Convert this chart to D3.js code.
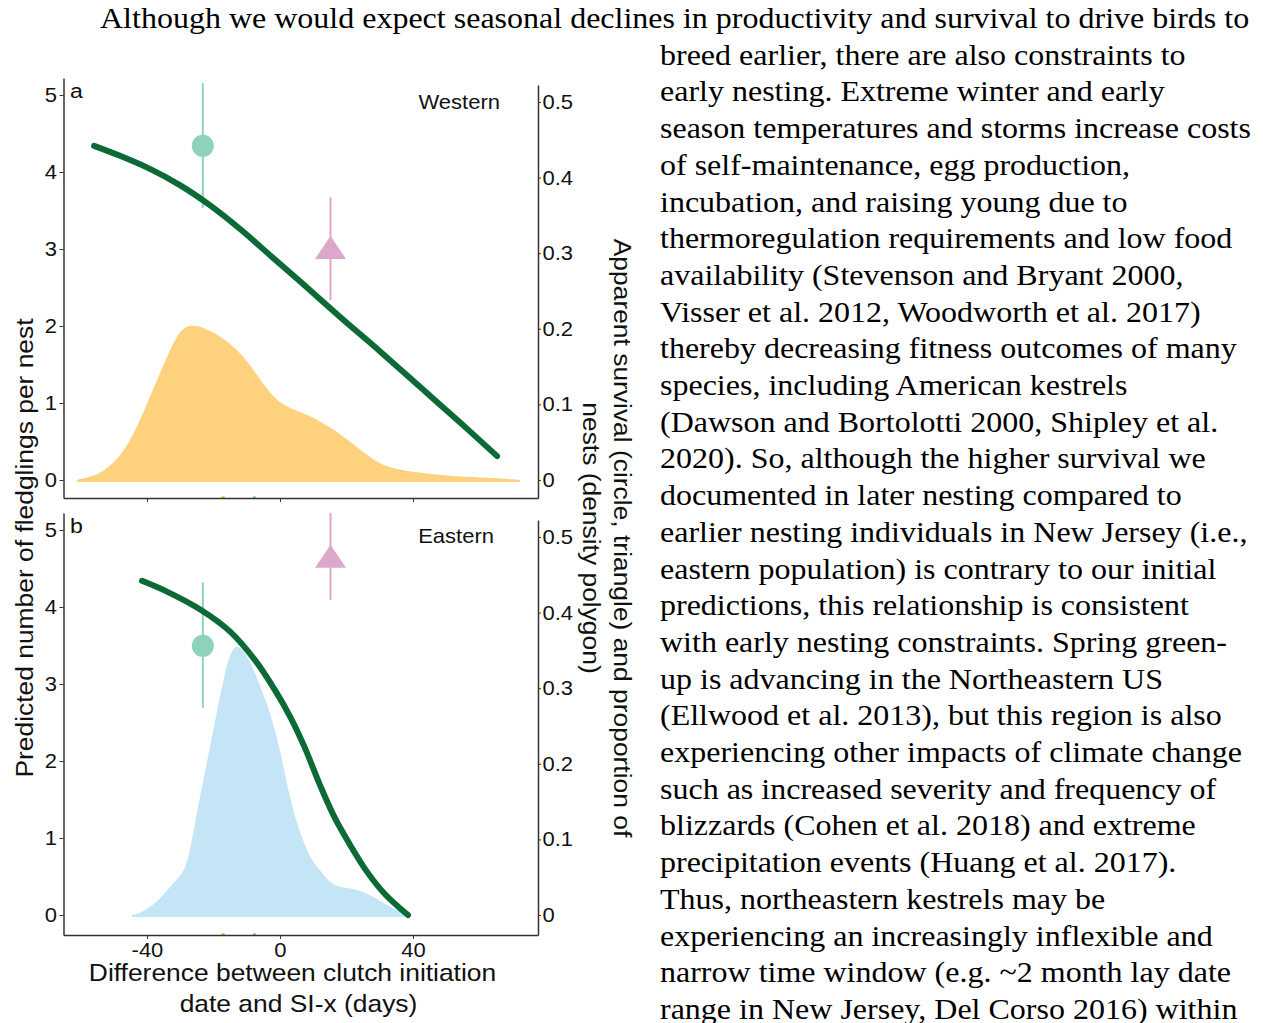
<!DOCTYPE html>
<html>
<head>
<meta charset="utf-8">
<script src="https://cdn.jsdelivr.net/npm/d3@7"></script>
<style>
  body { margin: 0; background: #fff; }
  svg { display: block; }
  .axis path, .axis line { stroke: #333; }
  .axis text { font-family: "Liberation Sans", Arial, sans-serif; font-size: 20px; fill: #111; }
  .lab { font-family: "Liberation Sans", Arial, sans-serif; fill: #111; }
  .para { font-family: "Liberation Serif", "Times New Roman", serif; font-size: 29px; fill: #000; }
</style>
</head>
<body>
<svg width="1263" height="1023"></svg>
<script>
// tick values
var xTicks = [-40, 0, 40];
var leftTicks = [0, 1, 2, 3, 4, 5];
var rightTicks = [0, 0.1, 0.2, 0.3, 0.4, 0.5];

// predicted fledglings (green curve), western
var westCurveX = [-55.9, -48.1, -39.1, -30.1, -21.1, -12.0, -3.0, 6.0, 18.0, 30.1, 42.1, 54.1, 65.3];
var westCurveY = [4.34, 4.21, 4.04, 3.83, 3.57, 3.26, 2.92, 2.58, 2.12, 1.67, 1.21, 0.75, 0.31];
// density of nests, western
var westDensX = [-61.1, -54.1, -49.0, -44.2, -39.1, -34.0, -30.1, -26.2, -22.0, -15.9, -9.9, -3.9, 0, 3.9, 9.9, 18.0, 24.1, 30.1, 36.1, 46.0, 56.2, 64.1, 72.2];
var westDensY = [0, 0.007, 0.026, 0.057, 0.11, 0.163, 0.2, 0.206, 0.2, 0.185, 0.159, 0.119, 0.102, 0.093, 0.084, 0.062, 0.04, 0.02, 0.013, 0.007, 0.004, 0.003, 0];

// predicted fledglings, eastern
var eastCurveX = [-41.5, -34.0, -24.1, -15.0, -7.5, -1.5, 3.0, 7.5, 12.0, 16.5, 21.1, 26.2, 31.6, 38.5];
var eastCurveY = [4.34, 4.20, 3.97, 3.68, 3.31, 2.92, 2.58, 2.17, 1.69, 1.26, 0.91, 0.56, 0.27, 0.0];
// density of nests, eastern
var eastDensX = [-44.5, -42.1, -37.0, -32.2, -28.0, -26.2, -23.2, -20.2, -17.1, -14.1, -9.9, -5.1, -0.9, 3.0, 6.0, 9.0, 12.0, 15.9, 21.1, 26.2, 31.0, 36.1, 39.1];
var eastDensY = [0, 0.002, 0.016, 0.042, 0.06, 0.108, 0.175, 0.241, 0.311, 0.364, 0.347, 0.294, 0.241, 0.152, 0.109, 0.075, 0.06, 0.037, 0.036, 0.029, 0.016, 0.004, 0];

// apparent survival: circle (early) and triangle (late)
var survX = [-23.2, 15.2];
var westSurv = [0.442, 0.307], westLo = [0.36, 0.238], westHi = [0.525, 0.374];
var eastSurv = [0.356, 0.474], eastLo = [0.274, 0.417], eastHi = [0.44, 0.532];

// small rug marks on the x axis
var rugX = [-17.1, -7.7];

var panelNames = ["Western", "Eastern"];
var panelTags = ["a", "b"];

var paragraph = [
  "Although we would expect seasonal declines in productivity and survival to drive birds to",
  "breed earlier, there are also constraints to",
  "early nesting. Extreme winter and early",
  "season temperatures and storms increase costs",
  "of self-maintenance, egg production,",
  "incubation, and raising young due to",
  "thermoregulation requirements and low food",
  "availability (Stevenson and Bryant 2000,",
  "Visser et al. 2012, Woodworth et al. 2017)",
  "thereby decreasing fitness outcomes of many",
  "species, including American kestrels",
  "(Dawson and Bortolotti 2000, Shipley et al.",
  "2020). So, although the higher survival we",
  "documented in later nesting compared to",
  "earlier nesting individuals in New Jersey (i.e.,",
  "eastern population) is contrary to our initial",
  "predictions, this relationship is consistent",
  "with early nesting constraints. Spring green-",
  "up is advancing in the Northeastern US",
  "(Ellwood et al. 2013), but this region is also",
  "experiencing other impacts of climate change",
  "such as increased severity and frequency of",
  "blizzards (Cohen et al. 2018) and extreme",
  "precipitation events (Huang et al. 2017).",
  "Thus, northeastern kestrels may be",
  "experiencing an increasingly inflexible and",
  "narrow time window (e.g. ~2 month lay date",
  "range in New Jersey, Del Corso 2016) within"
];

var green = "#0b6a35", teal = "#8dd3ba", pink = "#dba8cb";
var fills = ["#fdd17e", "#c3e5f5"];
var rugColors = ["#e69f00", "#56b4e9"];
var sx = 1.1; // the reference text is drawn a little wide

var svg = d3.select("svg");

var x = d3.scaleLinear().domain([-65.1, 77.6]).range([63.5, 538]);

var panels = [
  { zero: 480, bottom: 498, top: 78, rtop: 85, curveX: westCurveX, curveY: westCurveY, densX: westDensX, densY: westDensY, surv: westSurv, lo: westLo, hi: westHi },
  { zero: 915, bottom: 935, top: 513, rtop: 520, curveX: eastCurveX, curveY: eastCurveY, densX: eastDensX, densY: eastDensY, surv: eastSurv, lo: eastLo, hi: eastHi }
];

panels.forEach(function (p, i) {
  var g = svg.append("g");
  var yL = d3.scaleLinear().domain([(p.zero - p.bottom) / 77, (p.zero - p.top) / 77]).range([p.bottom, p.top]);
  var yR = d3.scaleLinear().domain([(p.zero - p.bottom) / 756, (p.zero - p.rtop) / 756]).range([p.bottom, p.rtop]);

  // density polygon
  var dens = p.densX.map(function (d, k) { return [d, p.densY[k]]; });
  g.append("path")
    .datum(dens)
    .attr("fill", fills[i])
    .attr("d", d3.area()
      .x(function (d) { return x(d[0]); })
      .y0(yR(0) + 2)
      .y1(function (d) { return yR(d[1]); })
      .curve(d3.curveBasis));

  // error bars
  g.selectAll(".err")
    .data(survX)
    .enter().append("line")
    .attr("x1", function (d) { return x(d); })
    .attr("x2", function (d) { return x(d); })
    .attr("y1", function (d, k) { return yR(p.lo[k]); })
    .attr("y2", function (d, k) { return yR(p.hi[k]); })
    .attr("stroke", function (d, k) { return k === 0 ? teal : pink; })
    .attr("stroke-width", 2);

  // fitted curve
  var pts = p.curveX.map(function (d, k) { return [d, p.curveY[k]]; });
  g.append("path")
    .datum(pts)
    .attr("fill", "none")
    .attr("stroke", green)
    .attr("stroke-width", 6)
    .attr("stroke-linecap", "round")
    .attr("d", d3.line()
      .x(function (d) { return x(d[0]); })
      .y(function (d) { return yL(d[1]); })
      .curve(d3.curveCatmullRom.alpha(0.5)));

  // circle (early nesters)
  g.append("circle")
    .attr("cx", x(survX[0]))
    .attr("cy", yR(p.surv[0]))
    .attr("r", 11)
    .attr("fill", teal);

  // triangle (late nesters)
  var tx = x(survX[1]), ty = yR(p.surv[1]);
  g.append("path")
    .attr("d", "M" + tx + "," + (ty - 12) + "L" + (tx + 15.5) + "," + (ty + 11) + "L" + (tx - 15.5) + "," + (ty + 11) + "Z")
    .attr("fill", pink);

  g.selectAll(".rug")
    .data(rugX)
    .enter().append("rect")
    .attr("x", function (d) { return x(d) - 1.5; })
    .attr("y", p.bottom - 1.5)
    .attr("width", 3)
    .attr("height", 2)
    .attr("fill", function (d, k) { return rugColors[k]; });

  // axes
  g.append("g")
    .attr("class", "axis")
    .attr("transform", "translate(63.5,0)")
    .call(d3.axisLeft(yL).tickValues(leftTicks).tickSize(4).tickSizeOuter(0).tickPadding(2).tickFormat(function (d) { return String(d); }));

  g.append("g")
    .attr("class", "axis")
    .attr("transform", "translate(538,0)")
    .call(d3.axisRight(yR).tickValues(rightTicks).tickSize(3).tickSizeOuter(0).tickPadding(1).tickFormat(function (d) { return d === 0 ? "0" : d3.format(".1f")(d); }));

  var xa = g.append("g")
    .attr("class", "axis")
    .attr("transform", "translate(0," + p.bottom + ")")
    .call(d3.axisBottom(x).tickValues(xTicks).tickSize(4).tickSizeOuter(0).tickPadding(4).tickFormat(function (d) { return String(d); }));
  if (i === 0) xa.selectAll("text").remove();

  g.selectAll(".axis path").attr("stroke-width", 1.5);
  g.selectAll(".axis text").attr("transform", "scale(" + sx + ",1)");

  g.append("text")
    .attr("class", "lab")
    .attr("transform", "translate(70," + (p.top + 20) + ") scale(" + sx + ",1)")
    .attr("font-size", 21)
    .text(panelTags[i]);

  g.append("text")
    .attr("class", "lab")
    .attr("transform", "translate(" + (i === 0 ? 500 : 494) + "," + (i === 0 ? 109 : 543) + ") scale(" + sx + ",1)")
    .attr("font-size", 20)
    .attr("text-anchor", "end")
    .text(panelNames[i]);
});

// axis titles
svg.append("text")
  .attr("class", "lab")
  .attr("font-size", 24)
  .attr("text-anchor", "middle")
  .attr("transform", "translate(33,548) rotate(-90) scale(" + sx + ",1)")
  .text("Predicted number of fledglings per nest");

svg.append("text")
  .attr("class", "lab")
  .attr("font-size", 24)
  .attr("text-anchor", "middle")
  .attr("transform", "translate(614,538) rotate(90) scale(" + sx + ",1)")
  .text("Apparent survival (circle, triangle) and proportion of");

svg.append("text")
  .attr("class", "lab")
  .attr("font-size", 24)
  .attr("text-anchor", "middle")
  .attr("transform", "translate(583,538) rotate(90) scale(" + sx + ",1)")
  .text("nests (density polygon)");

svg.append("text")
  .attr("class", "lab")
  .attr("font-size", 24)
  .attr("text-anchor", "middle")
  .attr("transform", "translate(292.5,981) scale(" + sx + ",1)")
  .text("Difference between clutch initiation");

svg.append("text")
  .attr("class", "lab")
  .attr("font-size", 24)
  .attr("text-anchor", "middle")
  .attr("transform", "translate(298.5,1012) scale(" + sx + ",1)")
  .text("date and SI-x (days)");

// body text
svg.selectAll(".para")
  .data(paragraph)
  .enter().append("text")
  .attr("class", "para")
  .attr("transform", function (d, i) {
    return "translate(" + (i === 0 ? 100 : 660) + "," + (28 + i * 36.7) + ") scale(1.104,1)";
  })
  .text(function (d) { return d; });
</script>
</body>
</html>
